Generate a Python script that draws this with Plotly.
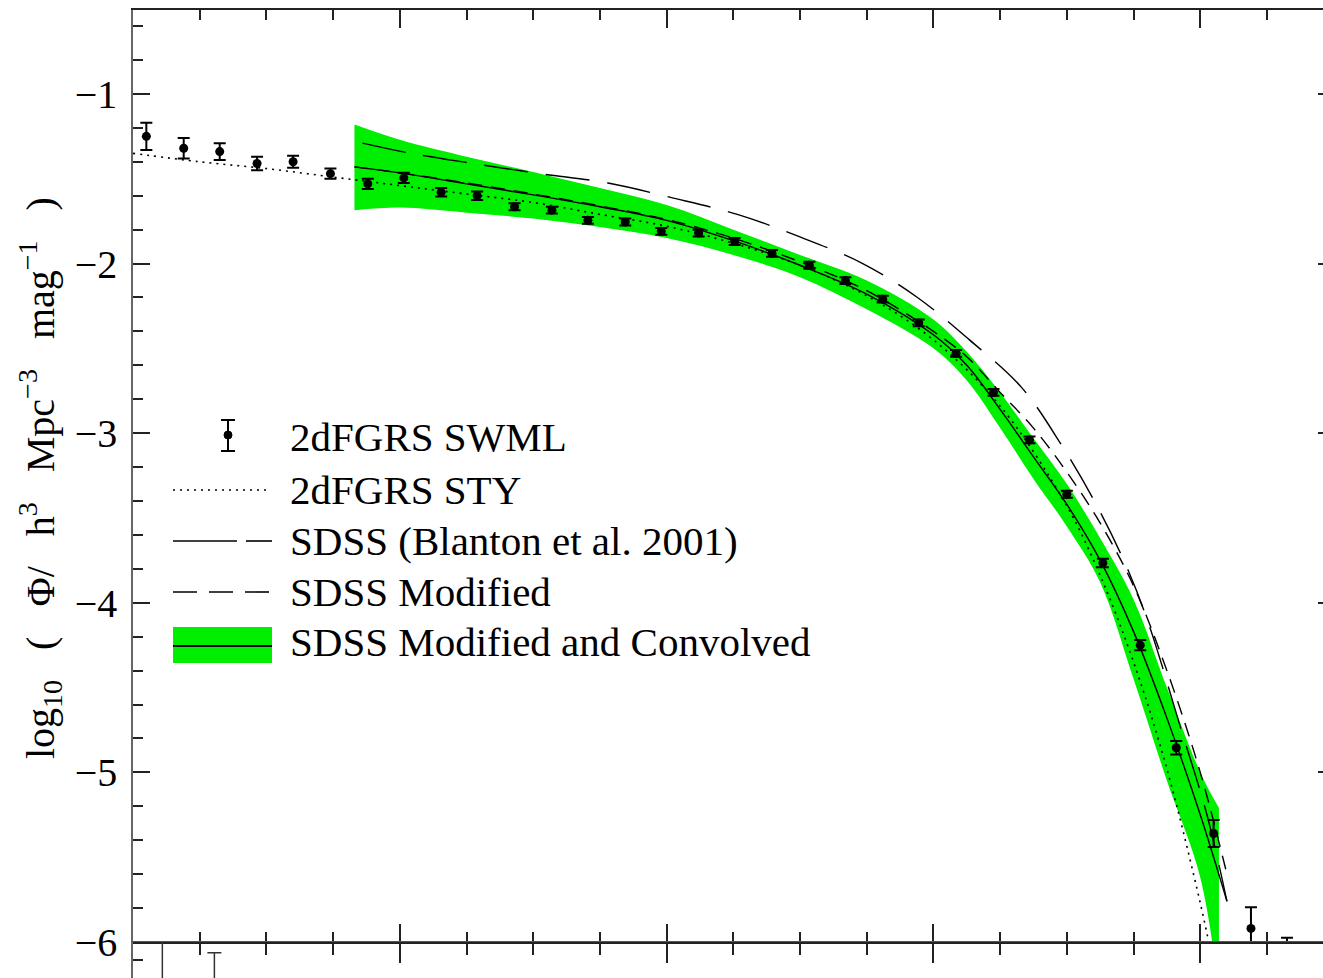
import plotly.graph_objects as go

# ---- 2dFGRS SWML estimates: absolute magnitude M_bJ - 5 log h, log10 phi, 1-sigma errors
swml_mag = [-14.10, -14.38, -14.65, -14.93, -15.20, -15.48, -15.76, -16.03, -16.31, -16.58,
            -16.86, -17.14, -17.41, -17.69, -17.96, -18.24, -18.51, -18.79, -19.07, -19.34,
            -19.62, -19.89, -20.17, -20.45, -20.72, -21.00, -21.27, -21.55, -21.82, -22.10,
            -22.38, -22.65]
swml_logphi = [-1.25, -1.32, -1.34, -1.41, -1.40, -1.47, -1.53, -1.495, -1.58, -1.60,
               -1.665, -1.685, -1.745, -1.755, -1.81, -1.82, -1.87, -1.94, -2.01, -2.10,
               -2.21, -2.35, -2.53, -2.76, -3.04, -3.36, -3.765, -4.25, -4.855, -5.36,
               -5.92, -6.20]
swml_err = [0.08, 0.06, 0.05, 0.04, 0.035, 0.03, 0.03, 0.03, 0.025, 0.025,
            0.02, 0.02, 0.02, 0.02, 0.02, 0.02, 0.02, 0.02, 0.02, 0.02,
            0.02, 0.02, 0.02, 0.02, 0.02, 0.02, 0.025, 0.03, 0.04, 0.08,
            0.125, 0.225]

# ---- 2dFGRS STY Schechter fit
sty_mag = [-14.0, -14.5, -15.0, -15.5, -16.0, -16.5, -17.0, -17.5, -18.0, -18.5,
           -19.0, -19.5, -20.0, -20.5, -21.0, -21.25, -21.5, -21.75, -22.0, -22.1]
sty_logphi = [-1.35, -1.40, -1.44, -1.49, -1.54, -1.59, -1.64, -1.71, -1.78, -1.88,
              -2.01, -2.19, -2.45, -2.84, -3.43, -3.84, -4.35, -4.98, -5.77, -6.14]

# ---- SDSS (Blanton et al. 2001), transformed to bJ
blanton_mag = [-15.72, -16.08, -16.55, -17.05, -17.56, -18.03, -18.53, -18.99, -19.47,
               -19.88, -20.27, -20.66, -20.96, -21.23, -21.46, -21.62, -21.85, -22.05, -22.20]
blanton_logphi = [-1.29, -1.35, -1.41, -1.47, -1.525, -1.61, -1.71, -1.84, -2.00,
                  -2.20, -2.45, -2.73, -3.07, -3.435, -3.81, -4.14, -4.73, -5.25, -5.76]

# ---- SDSS modified
modified_mag = [-15.66, -16.0, -16.5, -17.0, -17.5, -18.0, -18.5, -19.0, -19.5, -20.0,
                -20.25, -20.5, -20.75, -21.0, -21.25, -21.5, -21.75, -22.0, -22.2]
modified_logphi = [-1.43, -1.465, -1.525, -1.59, -1.66, -1.74, -1.85, -1.99, -2.16, -2.40,
                   -2.55, -2.76, -2.97, -3.23, -3.53, -3.90, -4.40, -5.00, -5.60]

# ---- SDSS modified and convolved: central curve and band limits
conv_mag = [-15.66, -16.0, -16.5, -17.0, -17.5, -18.0, -18.5, -19.0, -19.5, -20.0,
            -20.25, -20.5, -20.75, -21.0, -21.25, -21.5, -21.75, -22.0, -22.2]
conv_logphi = [-1.43, -1.465, -1.53, -1.595, -1.665, -1.745, -1.865, -2.01, -2.18, -2.42,
               -2.60, -2.86, -3.14, -3.42, -3.75, -4.17, -4.68, -5.25, -5.76]
band_mag = [-15.66, -16.0, -16.5, -17.0, -17.5, -18.0, -18.5, -19.0, -19.5, -20.0,
            -20.25, -20.5, -20.75, -21.0, -21.25, -21.5, -21.75, -22.0, -22.14]
band_upper = [-1.18, -1.27, -1.37, -1.46, -1.555, -1.655, -1.80, -1.95, -2.10, -2.33,
              -2.52, -2.76, -3.03, -3.30, -3.62, -3.98, -4.50, -5.00, -5.21]
band_lower = [-1.685, -1.67, -1.70, -1.735, -1.785, -1.85, -1.95, -2.08, -2.27, -2.50,
              -2.69, -2.97, -3.27, -3.55, -3.88, -4.45, -5.05, -5.62, -6.30]

# ---- lower panel (only its top strip is in view)
lower_mag = [-14.22, -14.61]
lower_val = [0.10, 0.25]
lower_err = [0.60, 0.19]

legend_labels = ["2dFGRS SWML", "2dFGRS STY", "SDSS (Blanton et al. 2001)",
                 "SDSS Modified", "SDSS Modified and Convolved"]

W, H = 1323, 978
ML, MR, MT, MB = 133, 0, 10, 0
SPLIT = (H - 942) / (H - MT - MB)   # paper fraction of the lower strip
GREEN = "#00ee00"
FONT = "Liberation Serif"
NB = "\u00a0"


def px(xp):
    return (xp - ML) / (W - ML - MR)


def py(yp):
    return (H - MB - yp) / (H - MT - MB)


fig = go.Figure()

fig.add_trace(go.Scatter(x=band_mag, y=band_lower, mode="lines", line=dict(width=0, shape="spline"),
                         showlegend=False, hoverinfo="skip"))
fig.add_trace(go.Scatter(x=band_mag, y=band_upper, mode="lines", line=dict(width=0, shape="spline"),
                         fill="tonexty", fillcolor=GREEN, showlegend=False, hoverinfo="skip"))

fig.add_trace(go.Scatter(x=sty_mag, y=sty_logphi, mode="lines",
                         line=dict(color="black", width=1.6, dash="2px,5px", shape="spline"),
                         showlegend=False))
fig.add_trace(go.Scatter(x=blanton_mag, y=blanton_logphi, mode="lines",
                         line=dict(color="black", width=1.4, dash="44px,18px", shape="spline"),
                         showlegend=False))
fig.add_trace(go.Scatter(x=modified_mag, y=modified_logphi, mode="lines",
                         line=dict(color="black", width=1.4, dash="14px,9px", shape="spline"),
                         showlegend=False))
fig.add_trace(go.Scatter(x=conv_mag, y=conv_logphi, mode="lines",
                         line=dict(color="black", width=1.4, shape="spline"),
                         showlegend=False))

fig.add_trace(go.Scatter(x=swml_mag, y=swml_logphi, mode="markers",
                         marker=dict(color="black", size=9),
                         error_y=dict(type="data", array=swml_err, color="black",
                                      thickness=2, width=6),
                         showlegend=False))

fig.add_trace(go.Scatter(x=lower_mag, y=lower_val, mode="markers", xaxis="x2", yaxis="y2",
                         marker=dict(color="black", size=9),
                         error_y=dict(type="data", array=lower_err, color="#333",
                                      thickness=1.5, width=7),
                         showlegend=False))

# right-hand tick marks of the upper panel
fig.add_trace(go.Scatter(x=[None], y=[None], yaxis="y3", showlegend=False))

axis_common = dict(showgrid=False, zeroline=False, linecolor="#222", linewidth=1.5,
                   tickcolor="#222", tickwidth=1.5, automargin=False)
yaxis_common = {**axis_common, "linecolor": "#666"}

fig.update_layout(
    width=W, height=H, autosize=False, showlegend=False,
    margin=dict(l=ML, r=MR, t=MT, b=MB, pad=0),
    paper_bgcolor="white", plot_bgcolor="white",
    font=dict(family=FONT, color="black", size=40),
    xaxis=dict(domain=[0, 1], range=[-14, -22.92], anchor="y", showline=True,
               mirror="ticks", ticks="inside", dtick=2, tick0=0, ticklen=18,
               minor=dict(dtick=0.5, tick0=0, ticks="inside", ticklen=10,
                          tickcolor="#222", tickwidth=1.5),
               showticklabels=False, **axis_common),
    yaxis=dict(domain=[SPLIT, 1], range=[-6, -0.505], anchor="x", showline=True,
               ticks="inside", dtick=1, tick0=0, ticklen=17,
               minor=dict(dtick=0.2, tick0=0, ticks="inside", ticklen=10,
                          tickcolor="#222", tickwidth=1.5),
               tickfont=dict(family=FONT, size=40), ticklabelstandoff=6,
               **yaxis_common),
    yaxis3=dict(overlaying="y", side="right", range=[-6, -0.505], anchor="x",
                ticks="inside", dtick=1, tick0=0, ticklen=5, showticklabels=False,
                showline=False, showgrid=False, zeroline=False, automargin=False,
                tickcolor="#222", tickwidth=1.5),
    xaxis2=dict(domain=[0, 1], range=[-14, -22.92], anchor="y2", side="top",
                showline=True, ticks="inside", dtick=2, tick0=0, ticklen=21,
                minor=dict(dtick=0.5, tick0=0, ticks="inside", ticklen=13,
                           tickcolor="#222", tickwidth=1.5),
                showticklabels=False, **{**axis_common, "linewidth": 1, "linecolor": "#555"}),
    yaxis2=dict(domain=[0, SPLIT], range=[0.3, 0.5], anchor="x2", showline=True,
                ticks="inside", tickvals=[0.4], ticklen=10, showticklabels=False,
                **yaxis_common),
)

# y-axis title
sp = NB * 3
fig.add_annotation(
    text=f"log<sub>10</sub>{sp}({sp}Φ/{sp}h<sup>3</sup>{sp}Mpc<sup>−3</sup>{sp}mag<sup>−1</sup>{sp})",
    xref="paper", yref="paper", x=px(40), y=py(478), textangle=-90,
    showarrow=False, xanchor="center", yanchor="middle",
    font=dict(family=FONT, size=40, color="black"))

# legend
row_y = [437, 490, 541, 592, 642]
for label, yy in zip(legend_labels, row_y):
    fig.add_annotation(text=label, xref="paper", yref="paper", x=px(288), y=py(yy),
                       xanchor="left", yanchor="middle", showarrow=False,
                       font=dict(family=FONT, size=41, color="black"))

line_kw = dict(xref="paper", yref="paper", type="line")
# error-bar symbol
fig.add_shape(x0=px(228), x1=px(228), y0=py(420), y1=py(451), line=dict(color="black", width=2), **line_kw)
fig.add_shape(x0=px(221), x1=px(235), y0=py(420), y1=py(420), line=dict(color="black", width=2), **line_kw)
fig.add_shape(x0=px(221), x1=px(235), y0=py(451), y1=py(451), line=dict(color="black", width=2), **line_kw)
fig.add_shape(type="circle", xref="paper", yref="paper", x0=px(224), x1=px(232), y0=py(439), y1=py(431),
              fillcolor="black", line=dict(color="black", width=1))
# line samples
fig.add_shape(x0=px(173), x1=px(270), y0=py(490), y1=py(490),
              line=dict(color="black", width=1.6, dash="2px,5px"), **line_kw)
fig.add_shape(x0=px(173), x1=px(237), y0=py(541), y1=py(541), line=dict(color="black", width=1.6), **line_kw)
fig.add_shape(x0=px(246), x1=px(272), y0=py(541), y1=py(541), line=dict(color="black", width=1.6), **line_kw)
fig.add_shape(x0=px(173), x1=px(270), y0=py(592), y1=py(592),
              line=dict(color="black", width=1.6, dash="24px,12px"), **line_kw)
fig.add_shape(type="rect", xref="paper", yref="paper", x0=px(173), x1=px(272), y0=py(663), y1=py(627),
              fillcolor=GREEN, line=dict(width=0))
fig.add_shape(x0=px(173), x1=px(272), y0=py(646), y1=py(646), line=dict(color="black", width=2), **line_kw)

fig.write_html("out.html")
